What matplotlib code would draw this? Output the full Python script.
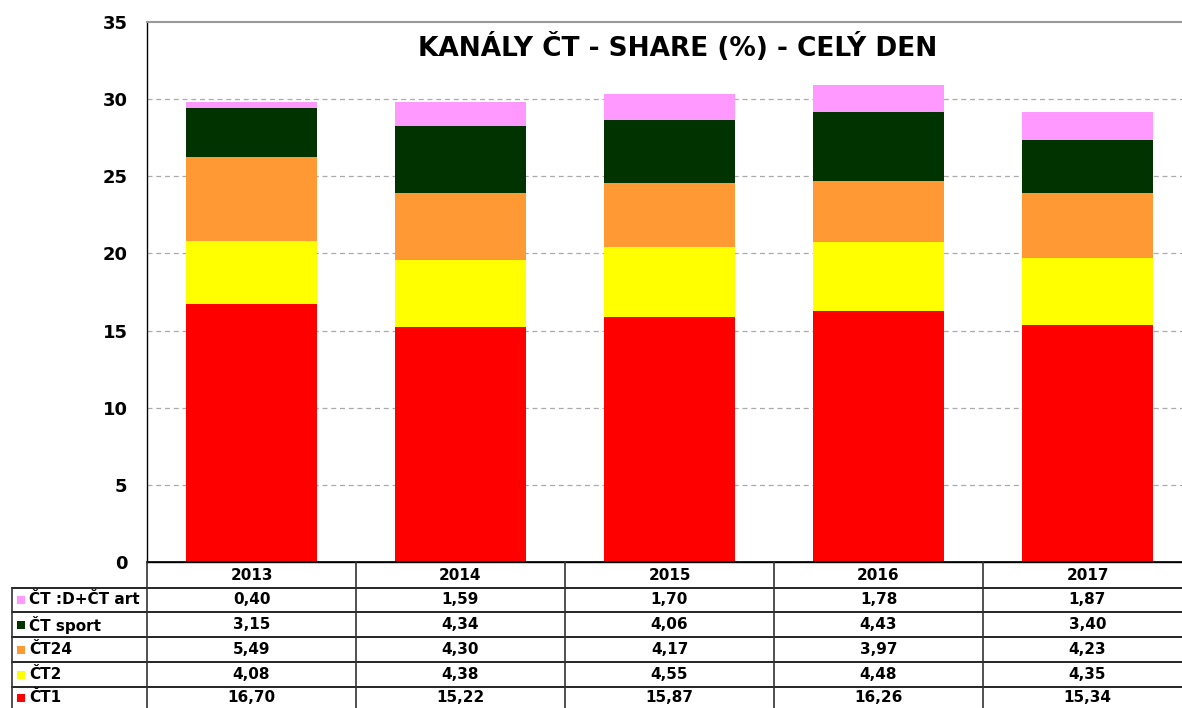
import matplotlib
matplotlib.use("Agg")
import matplotlib.pyplot as plt
from matplotlib.patches import Rectangle
from matplotlib.lines import Line2D

years = ["2013", "2014", "2015", "2016", "2017"]
ct1 = [16.70, 15.22, 15.87, 16.26, 15.34]
ct2 = [4.08, 4.38, 4.55, 4.48, 4.35]
ct24 = [5.49, 4.30, 4.17, 3.97, 4.23]
ctsport = [3.15, 4.34, 4.06, 4.43, 3.40]
ctdart = [0.40, 1.59, 1.70, 1.78, 1.87]

series_names = ["ČT1", "ČT2", "ČT24", "ČT sport", "ČT :D+ČT art"]
series_vals = [ct1, ct2, ct24, ctsport, ctdart]
colors = ["#FF0000", "#FFFF00", "#FF9933", "#003300", "#FF99FF"]
yticks = [0, 5, 10, 15, 20, 25, 30, 35]
title = "KANÁLY ČT - SHARE (%) - CELÝ DEN"

W, H = 1182, 708
fig = plt.figure(figsize=(W / 100, H / 100), dpi=100)
plt.rcParams['font.family'] = ['DejaVu Sans']

col_w = 209
ax_l, ax_t, ax_b = 147, 22, 562
ax_r = ax_l + col_w * len(years)
ax = fig.add_axes([ax_l / W, 1 - ax_b / H, (ax_r - ax_l) / W, (ax_b - ax_t) / H])

x = list(range(len(years)))
bottom = [0.0] * len(years)
for name, vals, c in zip(series_names, series_vals, colors):
    ax.bar(x, vals, width=0.63, bottom=bottom, color=c, zorder=3, linewidth=0)
    bottom = [b + v for b, v in zip(bottom, vals)]

ax.set_xlim(-0.5, len(years) - 0.5)
ax.set_ylim(0, 35)
ax.set_yticks(yticks)
ax.set_yticklabels([str(t) for t in yticks], fontsize=13, fontweight='bold')
ax.tick_params(axis='y', length=0, pad=14)
ax.set_xticks([])
for t in yticks[1:-1]:
    ax.axhline(t, color='#AAAAAA', linestyle=(0, (4, 3)), linewidth=0.9, zorder=1)
ax.spines['left'].set_color('black')
ax.spines['left'].set_linewidth(1.0)
ax.spines['top'].set_color('#999999')
ax.spines['top'].set_linewidth(1.5)
ax.spines['right'].set_visible(False)
ax.spines['bottom'].set_color('black')
ax.spines['bottom'].set_linewidth(1.0)
fig.text((413 + 943) / 2 / W, 1 - 47 / H, title, ha='center', va='center',
         fontsize=19, fontweight='bold')

# Data table below the axes (pixel layout)
def fx(px):
    return px / W

def fy(py):
    return 1 - py / H

col_edges = [ax_l + i * col_w for i in range(len(years) + 1)]
row_edges = [562, 588, 612, 637, 662, 687, 712]
lab_l = 12

fig.add_artist(Line2D([fx(ax_l), fx(ax_r)], [fy(row_edges[0])] * 2, color='black', lw=1.2))
for r in row_edges[1:-1]:
    fig.add_artist(Line2D([fx(lab_l), fx(ax_r)], [fy(r)] * 2, color='black', lw=1.2))
for ce in col_edges[:-1]:
    fig.add_artist(Line2D([fx(ce)] * 2, [fy(row_edges[0]), fy(H)], color='#333333', lw=1.2))
fig.add_artist(Line2D([fx(lab_l)] * 2, [fy(row_edges[1]), fy(H)], color='#333333', lw=1.2))

for i, yr in enumerate(years):
    cx = (col_edges[i] + col_edges[i + 1]) / 2
    fig.text(fx(cx), fy((row_edges[0] + row_edges[1]) / 2), yr, ha='center', va='center',
             fontsize=11, fontweight='bold')

order = list(range(len(series_names)))[::-1]
for ri, si in enumerate(order):
    y0, y1 = row_edges[ri + 1], row_edges[ri + 2]
    yc = (y0 + y1) / 2 if ri < len(order) - 1 else (y0 + 708) / 2 + 0.5
    sq = 8
    fig.add_artist(Rectangle((fx(17), fy(yc + sq / 2)), sq / W, sq / H,
                             facecolor=colors[si], edgecolor='none'))
    fig.text(fx(29), fy(yc), series_names[si], ha='left', va='center',
             fontsize=11, fontweight='bold')
    for i in range(len(years)):
        cx = (col_edges[i] + col_edges[i + 1]) / 2
        fig.text(fx(cx), fy(yc), f"{series_vals[si][i]:.2f}".replace('.', ','),
                 ha='center', va='center', fontsize=11, fontweight='bold')

fig.savefig("out.png", dpi=100)
